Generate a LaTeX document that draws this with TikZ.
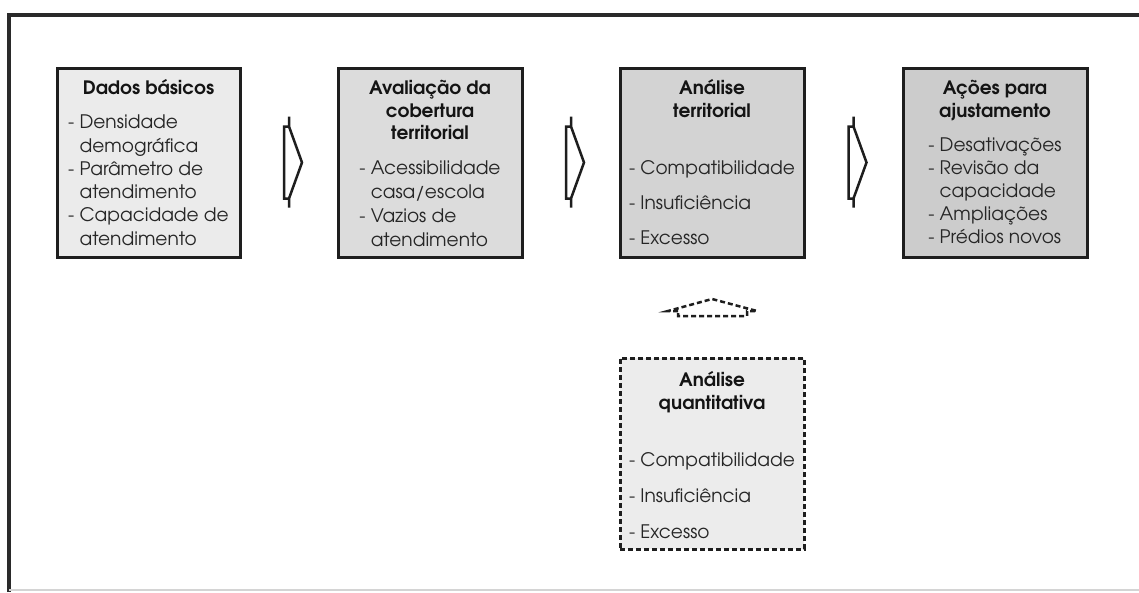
\documentclass[tikz,border=0pt]{standalone}
\usepackage{fontspec}
\setmainfont{texgyreadventor}[Extension=.otf, UprightFont=*-regular, BoldFont=*-bold, ItalicFont=*-italic, BoldItalicFont=*-bolditalic]
\usetikzlibrary{calc}
\definecolor{framec}{HTML}{2A2A2A}
\definecolor{botc}{HTML}{D4D4D4}
\definecolor{boxline}{HTML}{1E1E1E}
\definecolor{fa}{HTML}{EBEBEB}
\definecolor{fb}{HTML}{DCDCDC}
\definecolor{fc}{HTML}{D3D3D3}
\definecolor{fd}{HTML}{CCCCCC}
\definecolor{fe}{HTML}{ECECEC}
\definecolor{headc}{HTML}{141414}
\definecolor{bodyc}{HTML}{262626}
\tikzset{
  frameline/.style={draw=framec, line width=3.5pt},
  box/.style={draw=boxline, line width=3pt, inner sep=0pt, minimum width=184pt, minimum height=189pt},
  dbox/.style={box, line width=3pt, dash pattern=on 5pt off 3pt, minimum height=191pt},
  head/.style={anchor=north, align=center, inner sep=0pt, text=headc, font=\fontsize{18.5}{22.5}\selectfont\bfseries},
  body/.style={anchor=north, align=left, inner sep=0pt, text=bodyc},
  blockarrow/.style={draw=boxline, line width=2.5pt, line join=miter},
  dasharrow/.style={draw=boxline, line width=2.5pt, dash pattern=on 5pt off 3pt},
}
\begin{document}
\begin{tikzpicture}[x=1pt,y=-1pt]
\useasboundingbox (0,0) rectangle (1139,592);
\fill[white] (0,0) rectangle (1139,592);
% frame
\draw[frameline] (9,592) -- (9,15) -- (1139,15);
\draw[draw=botc, line width=1.5pt] (9,590) -- (1139,590);

% boxes
\node[box, fill=fa, minimum width=183pt] (b1) at (148.5,162.5) {};
\node[box, fill=fb] (b2) at (430,162.5) {};
\node[box, fill=fc] (b3) at (712,162.5) {};
\node[box, fill=fd] (b4) at (995,162.5) {};
\node[dbox, fill=fe] (b5) at (712,453.5) {};

% headings
\node[head] (h1) at (148.5,78.75) {\strut Dados básicos};
\node[head] (h2) at (430,78.75) {\strut Avaliação da\\cobertura\\territorial};
\node[head] (h3) at (712,78.75) {\strut Análise\\territorial};
\node[head] (h4) at (995,78.75) {\strut Ações para\\ajustamento};
\node[head] (h5) at (712,370.75) {\strut Análise\\quantitativa};

% bodies
\node[body, font=\fontsize{18.6}{23.3}\selectfont] (t1) at (148.5,112.2)
  {\strut- Densidade\\\hphantom{- }demográfica\\- Parâmetro de\\\hphantom{- }atendimento\\- Capacidade de\\\hphantom{- }atendimento};
\node[body, font=\fontsize{18.6}{24}\selectfont] (t2) at (430,157.2)
  {\strut- Acessibilidade\\\hphantom{- }casa/escola\\- Vazios de\\\hphantom{- }atendimento};
\node[body, font=\fontsize{18.6}{35}\selectfont] (t3) at (712,150)
  {\strut- Compatibilidade\\- Insuficiência\\- Excesso};
\node[body, font=\fontsize{18.6}{23}\selectfont] (t4) at (995,135.4)
  {\strut- Desativações\\- Revisão da\\\hphantom{- }capacidade\\- Ampliações\\- Prédios novos};
\node[body, font=\fontsize{18.6}{36}\selectfont] (t5) at (712,441.3)
  {\strut- Compatibilidade\\- Insuficiência\\- Excesso};

% block arrows between boxes
\coordinate (a1) at ($(b1.east)!0.5!(b2.west)$);
\coordinate (a2) at ($(b2.east)!0.5!(b3.west)$);
\coordinate (a3) at ($(b3.east)!0.5!(b4.west)$);
\foreach \a in {a1,a2,a3}{
  \draw[blockarrow, shift={(\a)}] (0,-46) -- (0,-36) -- (13,0) -- (0,36) -- (0,45)
    (0,-36) -- (-5,-36) -- (-5,36) -- (0,36);
}
% dashed up arrow
\coordinate (ua) at ($(b3.south)!0.5!(b5.north)$);
\draw[dasharrow, shift={(ua)}] (-34,3.5) -- (-44,3.5) -- (0,-8.5) -- (45,3.5) -- (35,3.5)
  -- (35,8.5) -- (-34,8.5) -- cycle;
\end{tikzpicture}
\end{document}
